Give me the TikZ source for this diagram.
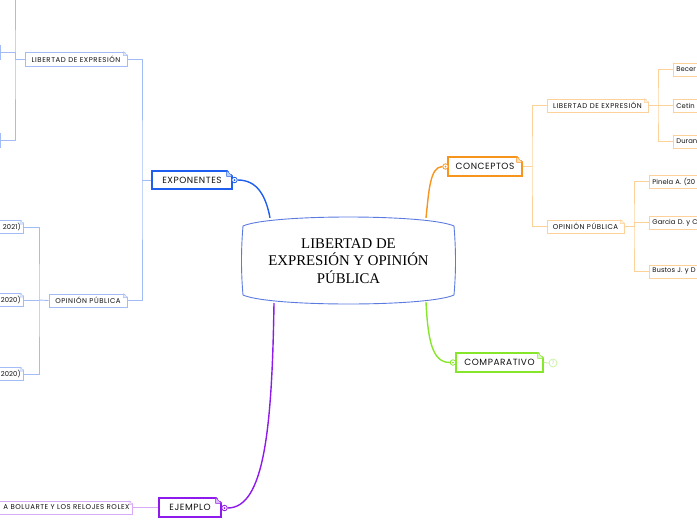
\documentclass[tikz,border=0pt]{standalone}
\usepackage{fontspec}
\setmainfont{Poppins}
\newfontfamily\rootfont{Liberation Serif}
\usetikzlibrary{calc}
\definecolor{mblue}{HTML}{1F5EEF}
\definecolor{lblue}{HTML}{A3BCF7}
\definecolor{rootblue}{HTML}{5B7BE0}
\definecolor{morange}{HTML}{F7941D}
\definecolor{lorange}{HTML}{FDD29A}
\definecolor{mgreen}{HTML}{86E62A}
\definecolor{lgreen}{HTML}{C6F3A0}
\definecolor{mpurple}{HTML}{8E1AEB}
\definecolor{lpurple}{HTML}{D9AAF7}
\definecolor{txt}{HTML}{111111}
\newcommand\foldc[3]{%
  \fill[white] ([xshift=-#3pt,yshift=1.2pt]#1.north east) -- ([xshift=1.2pt,yshift=1.2pt]#1.north east) -- ([xshift=1.2pt,yshift=-#3pt]#1.north east) -- cycle;
  \draw[#2,fill=#2!30,line join=round] ([xshift=-#3pt]#1.north east) -- ([yshift=-#3pt]#1.north east) -- ([xshift=-#3pt,yshift=-#3pt]#1.north east) -- cycle;}
\newcommand\mainfnt{\fontsize{9}{10}\selectfont\addfontfeature{LetterSpace=6}}
\newcommand\subfnt{\fontsize{7}{8}\selectfont\addfontfeature{LetterSpace=8}}
\newcommand\leaffnt{\fontsize{6.8}{8}\selectfont\addfontfeature{LetterSpace=1}}
\tikzset{
  mainbox/.style={draw=#1, line width=1.2pt, fill=white, inner sep=0pt, minimum height=19pt, text=txt, font=\mainfnt},
  subbox/.style={draw=#1, line width=0.8pt, fill=white, inner sep=0pt, minimum height=13pt, text=txt, font=\subfnt},
  leafbox/.style={draw=#1, line width=0.8pt, fill=white, inner xsep=3pt, inner ysep=0pt, minimum height=13pt, text=txt, font=\leaffnt},
  knob/.style={circle, draw=#1, fill=white, line width=0.8pt, minimum size=5.5pt, inner sep=0pt, path picture={\fill[#1] (path picture bounding box.center) circle (1pt);}},
  mline/.style={draw=#1, line width=1.4pt},
  sline/.style={draw=#1, line width=0.9pt},
}
\begin{document}
\begin{tikzpicture}[x=1pt,y=-1pt]
\useasboundingbox (0,0) rectangle (697,520);
\clip (0,0) rectangle (697,520);

% root
\node[minimum width=211pt, minimum height=88pt, inner sep=0pt, align=center,
  font=\rootfont\fontsize{14.8}{17.6}\selectfont, text=black] (root) at (348.5,261)
  {LIBERTAD DE\\EXPRESIÓN Y OPINIÓN\\PÚBLICA};

% main topics
\node[mainbox=mblue, minimum width=80pt, minimum height=18pt] (expo) at (192,180) {EXPONENTES};
\node[mainbox=morange, minimum width=74pt] (conc) at (485,166.5) {CONCEPTOS};
\node[mainbox=mgreen, minimum width=87pt] (comp) at (499.5,362.5) {COMPARATIVO};
\node[mainbox=mpurple, minimum width=62pt] (ejem) at (190,507.5) {EJEMPLO};

\node[knob=mblue] (kE) at (234.5,180) {};
\node[knob=morange] (kC) at (445.5,166.5) {};
\node[knob=mgreen] (kG) at (453,362.5) {};
\node[knob=mpurple] (kJ) at (224.5,508) {};

% main connectors
\draw[mline=mblue] (kE.east) .. controls (258,180) and (266,197) .. ($(root.north)+(-78.5,1)$);
\draw[mline=morange] ($(root.north)+(77.5,1)$) .. controls (429,190) and (430,167) .. (kC.west);
\draw[mline=mgreen] ($(root.south)+(77.5,-3)$) .. controls (428,340) and (432,362.5) .. (kG.west);
\draw[mline=mpurple] ($(root.south)+(-74.5,-2)$) .. controls (272,430) and (264,508) .. (kJ.east);

% root barrel
\draw[rootblue, line width=0.9pt]
  (243,226) .. controls (270,214) and (427,214) .. (454,226)
  .. controls (456,250) and (456,272) .. (454,295)
  .. controls (427,307) and (270,307) .. (243,295)
  .. controls (241,272) and (241,250) .. (243,226) -- cycle;

% ---- EXPONENTES subtree (blue)
\node[subbox=lblue, minimum width=102pt, minimum height=14pt] (libL) at (76,59) {LIBERTAD DE EXPRESIÓN};
\node[subbox=lblue, minimum width=78pt] (opL) at (88,300.5) {OPINIÓN PÚBLICA};
\coordinate (tE) at (142,180);
\draw[sline=lblue] (expo.west) -- (tE);
\draw[sline=lblue] (libL.east) -| (tE) |- (opL.east);

\node[subbox=lblue, anchor=east, minimum width=30pt, minimum height=14pt] (lc1) at (1,52) {};
\node[subbox=lblue, anchor=east, minimum width=30pt, minimum height=14pt] (lc2) at (1,140.5) {};
\coordinate (ltop) at (15,0);
\coordinate (tL) at (15,59);
\draw[sline=lblue] (libL.west) -- (tL);
\draw[sline=lblue] (ltop) -- (tL) |- (lc2.east);
\draw[sline=lblue] (tL) |- (lc1.east);

\node[leafbox=lblue, anchor=east, text width=40pt, align=right] (oc1) at (24,227) {2021)};
\node[leafbox=lblue, anchor=east, text width=40pt, align=right] (oc2) at (24,300) {2020)};
\node[leafbox=lblue, anchor=east, text width=40pt, align=right] (oc3) at (24,374) {2020)};
\coordinate (tO) at (39,300);
\draw[sline=lblue] (opL.west) -- (tO);
\draw[sline=lblue] (oc1.east) -| (tO) |- (oc3.east);
\draw[sline=lblue] (tO) -- (oc2.east);

% ---- CONCEPTOS subtree (orange)
\node[subbox=lorange, minimum width=101pt] (libR) at (597.5,105.5) {LIBERTAD DE EXPRESIÓN};
\node[subbox=lorange, minimum width=77pt] (opR) at (585.5,226.5) {OPINIÓN PÚBLICA};
\coordinate (tC) at (532,166.5);
\draw[sline=lorange] (conc.east) -- (tC);
\draw[sline=lorange] (libR.west) -| (tC) |- (opR.west);

\node[leafbox=lorange, anchor=west, text width=50pt, align=left] (rc1) at (673,69.5) {Becer};
\node[leafbox=lorange, anchor=west, text width=50pt, align=left] (rc2) at (673,105.5) {Cetin};
\node[leafbox=lorange, anchor=west, text width=50pt, align=left] (rc3) at (673,141.5) {Duran};
\coordinate (tR1) at (658,105.5);
\draw[sline=lorange] (libR.east) -- (tR1);
\draw[sline=lorange] (rc1.west) -| (tR1) |- (rc3.west);
\draw[sline=lorange] (tR1) -- (rc2.west);

\node[leafbox=lorange, anchor=west, text width=60pt, align=left] (ro1) at (649,181.5) {Pinela A. (20};
\node[leafbox=lorange, anchor=west, text width=60pt, align=left] (ro2) at (649,222.5) {Garcia D. y C};
\node[leafbox=lorange, anchor=west, text width=60pt, align=left] (ro3) at (649,271.5) {Bustos J. y D};
\coordinate (tR2) at (634,226.5);
\draw[sline=lorange] (opR.east) -- (tR2);
\draw[sline=lorange] (ro1.west) -| (tR2) |- (ro3.west);
\draw[sline=lorange] (tR2) |- (ro2.west);

% ---- COMPARATIVO (green)
\node[circle, draw=lgreen, line width=0.7pt, fill=white, minimum size=8pt, inner sep=0pt,
  text=lgreen!70!gray, font=\fontsize{4.5}{5}\selectfont] (cnt) at (553,363) {7};
\draw[sline=lgreen] (comp.east) -- (cnt.west);

% ---- EJEMPLO (purple)
\node[leafbox=lpurple, font=\subfnt, anchor=east, text width=140pt, align=right] (ej1) at (133,507.5) {A BOLUARTE Y LOS RELOJES ROLEX};
\draw[sline=lpurple] (ejem.west) -- (ej1.east);

% folded corners
\foldc{expo}{mblue}{6}
\foldc{conc}{morange}{6}
\foldc{comp}{mgreen}{6}
\foldc{ejem}{mpurple}{6}
\foldc{libL}{lblue}{4}
\foldc{opL}{lblue}{4}
\foldc{libR}{lorange}{4}
\foldc{opR}{lorange}{4}
\foldc{oc1}{lblue}{4}
\foldc{oc2}{lblue}{4}
\foldc{oc3}{lblue}{4}
\foldc{ej1}{lpurple}{4}
\end{tikzpicture}
\end{document}
